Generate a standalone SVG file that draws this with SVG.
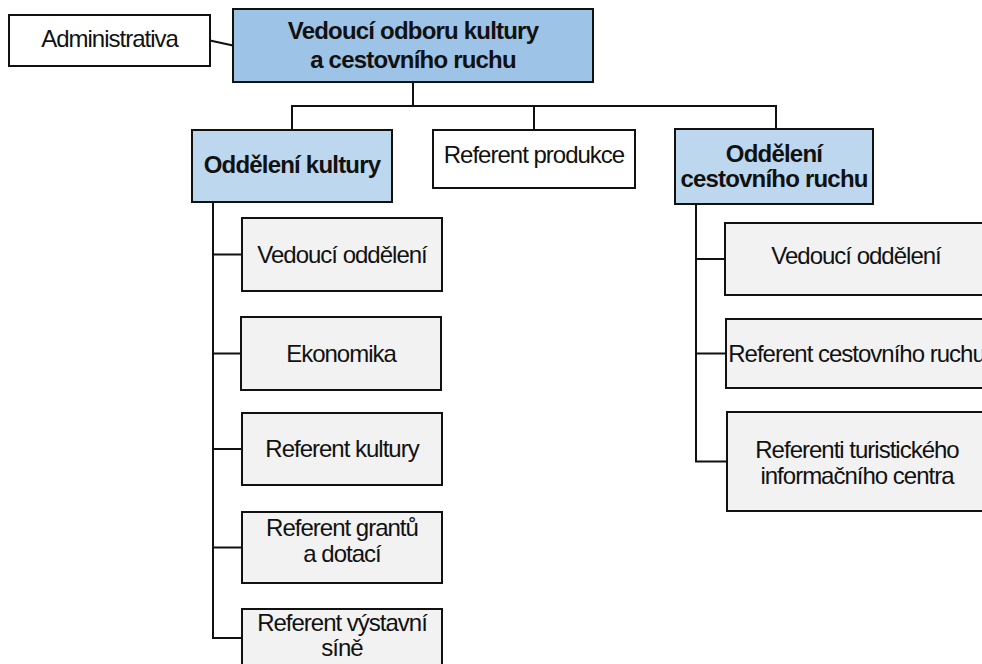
<svg xmlns="http://www.w3.org/2000/svg" width="982" height="664" viewBox="0 0 982 664">
  <style>
    .box { stroke: #111; stroke-width: 2; }
    .white { fill: #ffffff; }
    .head { fill: #9dc3e6; }
    .dept { fill: #bdd7ee; }
    .item { fill: #f2f2f2; }
    .conn { fill: none; stroke: #111; stroke-width: 2; }
    text { font-family: "Liberation Sans", Arial, sans-serif; font-size: 24px; letter-spacing: -1px; fill: #111; text-anchor: middle; }
    .b { font-weight: bold; letter-spacing: -0.8px; }
  </style>
  <rect width="982" height="664" fill="#ffffff"/>

  <!-- connectors -->
  <g id="connectors">
    <line class="conn" x1="210" y1="40.5" x2="233" y2="45.5"/>
    <line class="conn" x1="413" y1="82" x2="413" y2="106"/>
    <polyline class="conn" points="292,130 292,106 776,106 776,129"/>
    <line class="conn" x1="534" y1="106" x2="534" y2="130"/>
    <!-- Oddělení kultury subtree -->
    <polyline class="conn" points="213,202 213,638 242,638"/>
    <line class="conn" x1="213" y1="254.5" x2="242" y2="254.5"/>
    <line class="conn" x1="213" y1="353.5" x2="241" y2="353.5"/>
    <line class="conn" x1="213" y1="449" x2="242" y2="449"/>
    <line class="conn" x1="213" y1="547.5" x2="242" y2="547.5"/>
    <!-- Oddělení cestovního ruchu subtree -->
    <polyline class="conn" points="696,204 696,461.5 727,461.5"/>
    <line class="conn" x1="696" y1="259" x2="725" y2="259"/>
    <line class="conn" x1="696" y1="353.5" x2="726" y2="353.5"/>
  </g>

  <g id="administrativa">
    <rect class="box white" x="9" y="15" width="201" height="51"/>
    <text x="109.5" y="47">Administrativa</text>
  </g>

  <g id="vedouci-odboru">
    <rect class="box head" x="233" y="9" width="360" height="73"/>
    <text class="b" x="413" y="39">Vedoucí odboru kultury</text>
    <text class="b" x="413" y="68">a cestovního ruchu</text>
  </g>

  <g id="oddeleni-kultury">
    <rect class="box dept" x="192" y="130" width="200" height="72"/>
    <text class="b" x="292" y="173">Oddělení kultury</text>
  </g>

  <g id="referent-produkce">
    <rect class="box white" x="433" y="130" width="202" height="58"/>
    <text x="534" y="163">Referent produkce</text>
  </g>

  <g id="oddeleni-cr">
    <rect class="box dept" x="675" y="129" width="198" height="75"/>
    <text class="b" x="774" y="162">Oddělení</text>
    <text class="b" x="774" y="187">cestovního ruchu</text>
  </g>

  <!-- culture department staff -->
  <g id="k-vedouci">
    <rect class="box item" x="242" y="218" width="200" height="73"/>
    <text x="342" y="263">Vedoucí oddělení</text>
  </g>
  <g id="k-ekonomika">
    <rect class="box item" x="241" y="317" width="200" height="73"/>
    <text x="341" y="362">Ekonomika</text>
  </g>
  <g id="k-referent-kultury">
    <rect class="box item" x="242" y="413" width="200" height="72"/>
    <text x="342" y="457">Referent kultury</text>
  </g>
  <g id="k-granty">
    <rect class="box item" x="242" y="512" width="200" height="71"/>
    <text x="342" y="536">Referent grantů</text>
    <text x="342" y="562">a dotací</text>
  </g>
  <g id="k-vystavni-sin">
    <rect class="box item" x="242" y="609" width="200" height="72"/>
    <text x="342" y="631">Referent výstavní</text>
    <text x="342" y="656">síně</text>
  </g>

  <!-- tourism department staff -->
  <g id="cr-vedouci">
    <rect class="box item" x="725" y="223" width="262" height="72"/>
    <text x="856" y="264">Vedoucí oddělení</text>
  </g>
  <g id="cr-referent">
    <rect class="box item" x="726" y="319" width="261" height="69"/>
    <text x="856.5" y="362">Referent cestovního ruchu</text>
  </g>
  <g id="cr-tic">
    <rect class="box item" x="727" y="412" width="260" height="99"/>
    <text x="857" y="458">Referenti turistického</text>
    <text x="857" y="484">informačního centra</text>
  </g>
</svg>
